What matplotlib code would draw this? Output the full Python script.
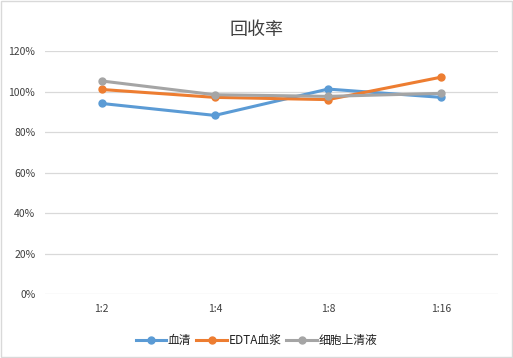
import numpy as np
import matplotlib.pyplot as plt
from matplotlib.ticker import PercentFormatter

plt.rcParams['font.family'] = ['Noto Sans CJK SC', 'DejaVu Sans']

categories = ['1:2', '1:4', '1:8', '1:16']
serum = [0.942, 0.883, 1.013, 0.972]
edta = [1.011, 0.972, 0.961, 1.072]
supernatant = [1.053, 0.985, 0.977, 0.992]

fig = plt.figure(figsize=(5.13, 3.58), dpi=100)
ax = fig.add_axes([0.0877, 0.178, 0.883, 0.679])

x = np.arange(len(categories))
ax.plot(x, serum, color='#5B9BD5', lw=2.2, marker='o', ms=5, label='血清')
ax.plot(x, edta, color='#ED7D31', lw=2.2, marker='o', ms=5, label='EDTA血浆')
ax.plot(x, supernatant, color='#A5A5A5', lw=2.2, marker='o', ms=5, label='细胞上清液')

ax.set_xlim(-0.5, 3.5)
ax.set_ylim(0, 1.2)
ax.set_yticks(np.arange(0, 1.21, 0.2))
ax.yaxis.set_major_formatter(PercentFormatter(1.0, decimals=0))
ax.set_xticks(x)
ax.set_xticklabels(categories)
ax.grid(axis='y', color='#D9D9D9', lw=0.9)
ax.set_axisbelow(True)
for s in ax.spines.values():
    s.set_visible(False)
ax.tick_params(length=0, labelsize=7.5, colors='#404040', pad=7)

fig.suptitle('回收率', x=0.5, y=0.94, fontsize=13, color='#404040')
fig.legend(loc='lower center', bbox_to_anchor=(0.5, 0.0), ncol=3, frameon=False,
           fontsize=8.5, handlelength=2.6, columnspacing=0.4, handletextpad=0.15,
           labelcolor='#202020')

border = plt.Rectangle((0.002, 0.002), 0.996, 0.996, transform=fig.transFigure,
                       fill=False, ec='#D9D9D9', lw=1)
fig.patches.append(border)

plt.savefig('out.png', dpi=100)
